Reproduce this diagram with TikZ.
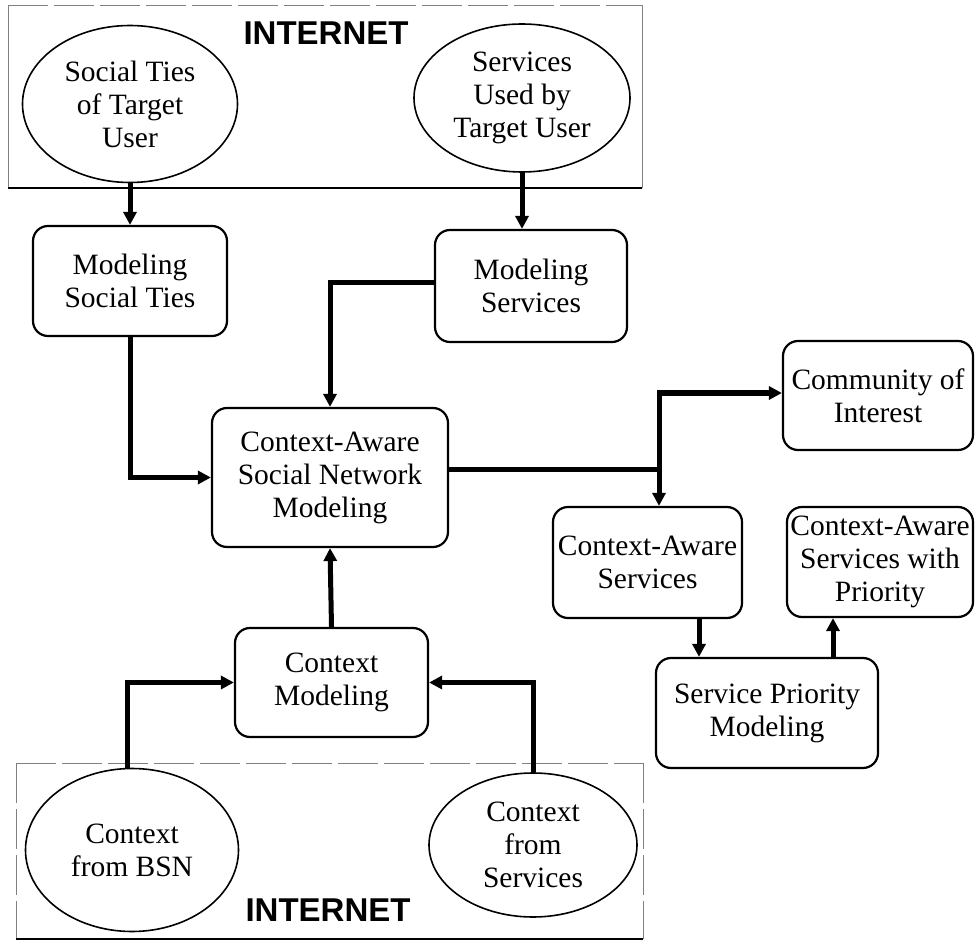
\documentclass[tikz,border=0pt]{standalone}
\usepackage{fontspec}
\setmainfont{Liberation Serif}
\newfontfamily\inetfont{Liberation Sans}
\usetikzlibrary{shapes.geometric,arrows.meta,calc}
\begin{document}
\begin{tikzpicture}[x=1pt,y=-1pt,
  every node/.style={font=\fontsize{29.5}{33}\selectfont, align=center, inner sep=0pt},
  ell/.style={ellipse, draw, line width=1.6pt, fill=white},
  rbox/.style={draw, line width=2.2pt, rounded corners=15pt, fill=white},
  conn/.style={line width=5pt},
  arr/.style={line width=5pt, -{Triangle[length=13pt,width=13pt]}},
  inet/.style={font=\inetfont\bfseries\fontsize{33}{36}\selectfont},
  frameedge/.style={draw=gray, line width=0.9pt},
  framedash/.style={draw=gray, line width=0.9pt, dash pattern=on 40pt off 6pt},
  framebase/.style={draw=black, line width=2pt}]
\useasboundingbox (0,0) rectangle (975,941);

% INTERNET frames
\draw[framedash] (8,5) -- (642,5);
\draw[frameedge] (8,5) -- (8,188);
\draw[frameedge] (642,5) -- (642,188);
\draw[framebase] (8,188) -- (642,188);

\draw[framedash] (16,763) -- (643,763);
\draw[framedash] (16,763) -- (16,939);
\draw[framedash] (643,763) -- (643,939);
\draw[framebase] (16,939) -- (643,939);

\node[inet] (inettop) at (326,33) {INTERNET};
\node[inet] (inetbot) at (328,910) {INTERNET};

% Ellipses
\node[ell, minimum width=215pt, minimum height=157pt] (e1) at (130,104) {Social Ties\\of Target\\User};
\node[ell, minimum width=216pt, minimum height=148pt] (e2) at (522,98) {Services\\Used by\\Target User};
\node[ell, minimum width=213pt, minimum height=163pt] (bsn) at (132,850) {Context\\from BSN};
\node[ell, minimum width=208pt, minimum height=144pt] (cfs) at (533,845) {Context\\from\\Services};

% Boxes
\node[rbox, minimum width=194pt, minimum height=110pt] (mst) at (130,281) {Modeling\\Social Ties};
\node[rbox, minimum width=192pt, minimum height=112pt] (ms) at (531,286) {Modeling\\Services};
\node[rbox, minimum width=236pt, minimum height=139pt] (casnm) at (330,477.5) {Context-Aware\\Social Network\\Modeling};
\node[rbox, minimum width=190pt, minimum height=109pt] (coi) at (878,395.5) {Community of\\Interest};
\node[rbox, minimum width=189pt, minimum height=111pt] (cas) at (647.5,562.5) {Context-Aware\\Services};
\node[rbox, minimum width=186pt, minimum height=110pt] (caswp) at (880,562) {Context-Aware\\Services with\\Priority};
\node[rbox, minimum width=222pt, minimum height=110pt] (spm) at (767,713) {Service Priority\\Modeling};
\node[rbox, minimum width=193pt, minimum height=109pt] (cm) at (331.5,682.5) {Context\\Modeling};

% Connectors
\draw[arr] (e1.south) -- (mst.north);
\draw[arr] (e2.south) -- (e2.south |- ms.north);
\draw[arr] ([yshift=3pt]ms.west) -| (casnm.north);
\draw[arr] (mst.south) |- (casnm.west);

\coordinate (split) at (659,469);
\draw[conn] (casnm.east |- split) -- ([xshift=2.5pt]split);
\draw[arr] ([yshift=2pt]split) |- ([yshift=2.5pt]coi.west);
\draw[arr] ([yshift=-2pt]split) -- (split |- cas.north);

\draw[arr] ([xshift=51.5pt]cas.south) -- ([xshift=51.5pt]cas.south |- spm.north);
\draw[arr] ([xshift=66pt]spm.north) -- ([xshift=66pt]spm.north |- caswp.south);

\draw[arr] (cm.north) -- (casnm.south);
\draw[arr] ([xshift=-5pt]bsn.north) |- (cm.west);
\draw[arr] (cfs.north) |- (cm.east);
\end{tikzpicture}
\end{document}
